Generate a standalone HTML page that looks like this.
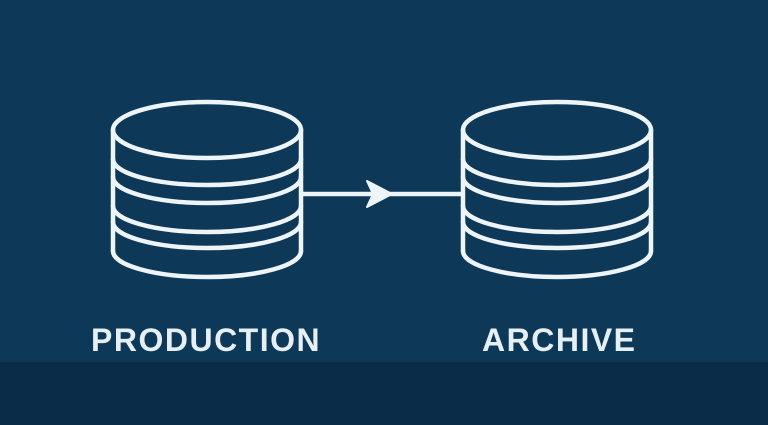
<!DOCTYPE html>
<html><head><style>
html,body{margin:0;padding:0}
body{width:768px;height:425px;overflow:hidden;background:#0d3858;position:relative;font-family:"Liberation Sans",sans-serif}
.band{position:absolute;left:0;top:362px;width:768px;height:63px;background:#0b2c48}
.t{position:absolute;color:#e6eff4;font-weight:bold;font-size:32px;top:322px;line-height:36px;letter-spacing:1.5px}
</style></head><body>
<div class="band"></div>
<svg width="768" height="425" style="position:absolute;left:0;top:0" fill="none" stroke="#eef5f8" stroke-width="4.5" stroke-linecap="round" stroke-linejoin="round">
<g id="c">
<ellipse cx="207" cy="130" rx="94" ry="28"/>
<path d="M113 130 V251 M301 130 V251"/>
<path d="M113 159 A94 26 0 0 0 301 159"/>
<path d="M113 177 A94 26 0 0 0 301 177"/>
<path d="M113 206 A94 26 0 0 0 301 206"/>
<path d="M113 222 A94 26 0 0 0 301 222"/>
<path d="M113 251 A94 26 0 0 0 301 251"/>
</g>
<use href="#c" transform="translate(350 0)"/>
<path d="M302 194 H462"/>
<path d="M367 181 L392 194 L367 207 L373 194 Z" fill="#eef5f8" stroke-width="2"/>
</svg>
<div class="t" style="left:91px">PRODUCTION</div>
<div class="t" style="left:482px;letter-spacing:1.5px">ARCHIVE</div>
</body></html>
